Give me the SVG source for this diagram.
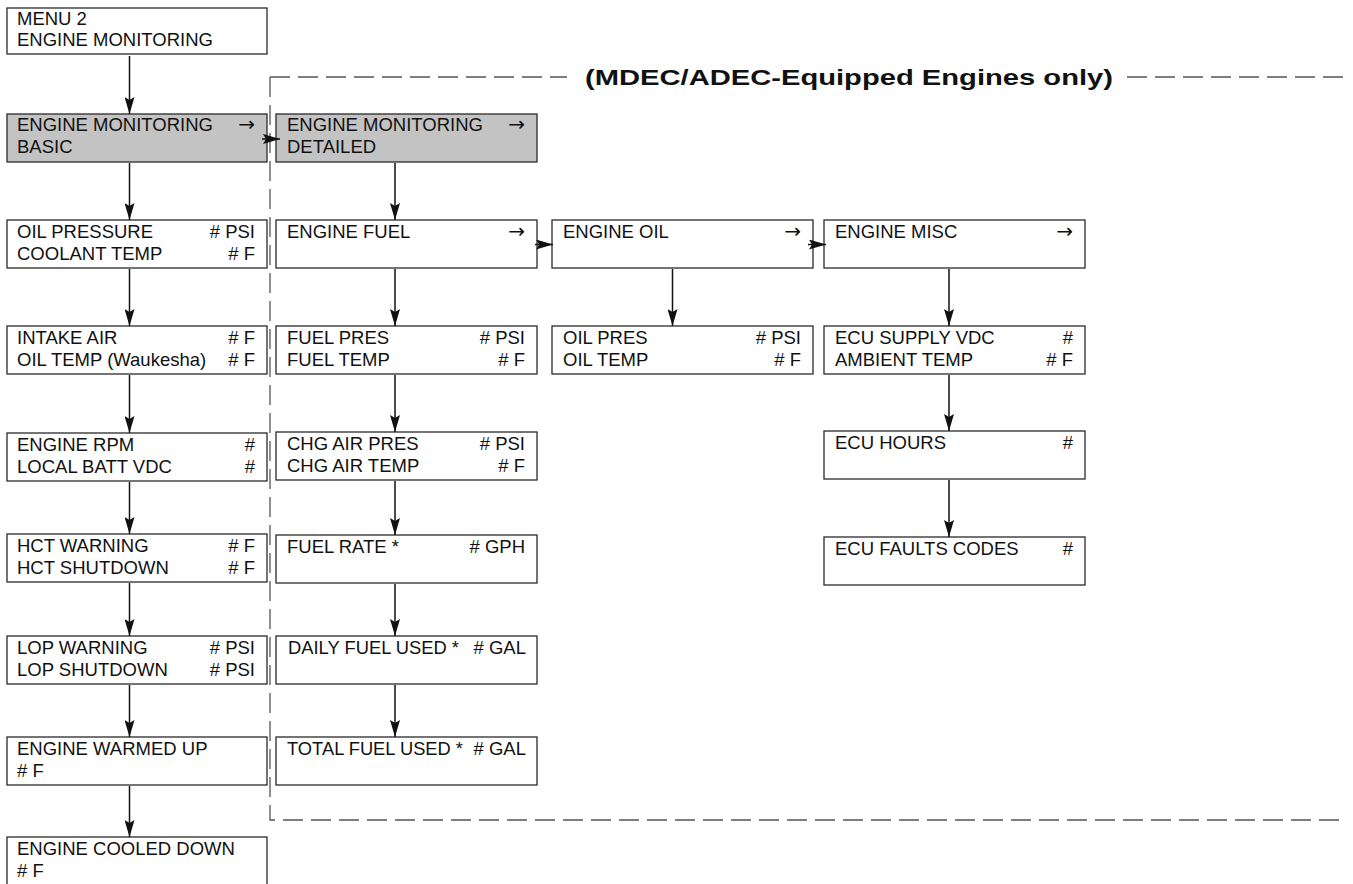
<svg xmlns="http://www.w3.org/2000/svg" width="1353" height="884" viewBox="0 0 1353 884">
<style>
.box{fill:#fff;stroke:#2a2a2a;stroke-width:1.3}
.sel{fill:#c3c3c3;stroke:#2a2a2a;stroke-width:1.3}
text{font-family:"Liberation Sans",Arial,sans-serif;font-size:18.5px;fill:#111}
.r{text-anchor:end}
.ar{font-family:"DejaVu Sans","Liberation Sans",sans-serif;font-size:20px;text-anchor:end}
.hdr{font-weight:bold;font-size:22px}
.dash{fill:none;stroke:#555;stroke-width:1.3;stroke-dasharray:20 8}
.con{fill:none;stroke:#111;stroke-width:1.5;marker-end:url(#ah)}
</style>
<defs>
<marker id="ah" viewBox="0 0 17 10" markerWidth="17" markerHeight="10" refX="17" refY="5" orient="auto" markerUnits="userSpaceOnUse">
<path d="M0,0 L17,5 L0,10 L3,5 Z" fill="#111"/>
</marker>
</defs>

<g id="region">
<path class="dash" d="M270,77 H567"/>
<path class="dash" d="M1127,77 H1347"/>
<path class="dash" d="M270,77 V820 H1340"/>
<text class="hdr" x="585" y="85" textLength="528" lengthAdjust="spacingAndGlyphs">(MDEC/ADEC-Equipped Engines only)</text>
</g>

<g id="menu2">
<rect class="box" x="7" y="8" width="260" height="46"/>
<text x="17" y="25">MENU 2</text>
<text x="17" y="46">ENGINE MONITORING</text>
</g>
<g id="basic">
<rect class="sel" x="7" y="114" width="260" height="48"/>
<text x="17" y="131">ENGINE MONITORING</text>
<text class="ar" x="255" y="131">→</text>
<text x="17" y="153">BASIC</text>
</g>
<g id="oilpressure">
<rect class="box" x="7" y="220" width="260" height="48"/>
<text x="17" y="238">OIL PRESSURE</text>
<text class="r" x="255" y="238"># PSI</text>
<text x="17" y="260">COOLANT TEMP</text>
<text class="r" x="255" y="260"># F</text>
</g>
<g id="intakeair">
<rect class="box" x="7" y="326" width="260" height="48"/>
<text x="17" y="344">INTAKE AIR</text>
<text class="r" x="255" y="344"># F</text>
<text x="17" y="366">OIL TEMP (Waukesha)</text>
<text class="r" x="255" y="366"># F</text>
</g>
<g id="enginerpm">
<rect class="box" x="7" y="433" width="260" height="48"/>
<text x="17" y="451">ENGINE RPM</text>
<text class="r" x="255" y="451">#</text>
<text x="17" y="473">LOCAL BATT VDC</text>
<text class="r" x="255" y="473">#</text>
</g>
<g id="hct">
<rect class="box" x="7" y="534" width="260" height="48"/>
<text x="17" y="552">HCT WARNING</text>
<text class="r" x="255" y="552"># F</text>
<text x="17" y="574">HCT SHUTDOWN</text>
<text class="r" x="255" y="574"># F</text>
</g>
<g id="lop">
<rect class="box" x="7" y="636" width="260" height="48"/>
<text x="17" y="654">LOP WARNING</text>
<text class="r" x="255" y="654"># PSI</text>
<text x="17" y="676">LOP SHUTDOWN</text>
<text class="r" x="255" y="676"># PSI</text>
</g>
<g id="warmedup">
<rect class="box" x="7" y="737" width="260" height="48"/>
<text x="17" y="755">ENGINE WARMED UP</text>
<text x="17" y="777"># F</text>
</g>
<g id="cooleddown">
<rect class="box" x="7" y="837" width="260" height="60"/>
<text x="17" y="855">ENGINE COOLED DOWN</text>
<text x="17" y="877"># F</text>
</g>

<g id="detailed">
<rect class="sel" x="276" y="114" width="261" height="48"/>
<text x="287" y="131">ENGINE MONITORING</text>
<text class="ar" x="525" y="131">→</text>
<text x="287" y="153">DETAILED</text>
</g>
<g id="enginefuel">
<rect class="box" x="276" y="220" width="261" height="48"/>
<text x="287" y="238">ENGINE FUEL</text>
<text class="ar" x="525" y="238">→</text>
</g>
<g id="fuelpres">
<rect class="box" x="276" y="326" width="261" height="48"/>
<text x="287" y="344">FUEL PRES</text>
<text class="r" x="525" y="344"># PSI</text>
<text x="287" y="366">FUEL TEMP</text>
<text class="r" x="525" y="366"># F</text>
</g>
<g id="chgair">
<rect class="box" x="276" y="432" width="261" height="48"/>
<text x="287" y="450">CHG AIR PRES</text>
<text class="r" x="525" y="450"># PSI</text>
<text x="287" y="472">CHG AIR TEMP</text>
<text class="r" x="525" y="472"># F</text>
</g>
<g id="fuelrate">
<rect class="box" x="276" y="535" width="261" height="48"/>
<text x="287" y="553">FUEL RATE *</text>
<text class="r" x="525" y="553"># GPH</text>
</g>
<g id="dailyfuel">
<rect class="box" x="276" y="636" width="261" height="48"/>
<text x="288" y="654" textLength="171" lengthAdjust="spacingAndGlyphs">DAILY FUEL USED *</text>
<text class="r" x="526" y="654"># GAL</text>
</g>
<g id="totalfuel">
<rect class="box" x="276" y="737" width="261" height="48"/>
<text x="287" y="755" textLength="176" lengthAdjust="spacingAndGlyphs">TOTAL FUEL USED *</text>
<text class="r" x="526" y="755"># GAL</text>
</g>

<g id="engineoil">
<rect class="box" x="552" y="220" width="261" height="48"/>
<text x="563" y="238">ENGINE OIL</text>
<text class="ar" x="801" y="238">→</text>
</g>
<g id="oilpres">
<rect class="box" x="552" y="326" width="261" height="48"/>
<text x="563" y="344">OIL PRES</text>
<text class="r" x="801" y="344"># PSI</text>
<text x="563" y="366">OIL TEMP</text>
<text class="r" x="801" y="366"># F</text>
</g>

<g id="enginemisc">
<rect class="box" x="824" y="220" width="261" height="48"/>
<text x="835" y="238">ENGINE MISC</text>
<text class="ar" x="1073" y="238">→</text>
</g>
<g id="ecusupply">
<rect class="box" x="824" y="326" width="261" height="48"/>
<text x="835" y="344">ECU SUPPLY VDC</text>
<text class="r" x="1073" y="344">#</text>
<text x="835" y="366">AMBIENT TEMP</text>
<text class="r" x="1073" y="366"># F</text>
</g>
<g id="ecuhours">
<rect class="box" x="824" y="431" width="261" height="48"/>
<text x="835" y="449">ECU HOURS</text>
<text class="r" x="1073" y="449">#</text>
</g>
<g id="ecufaults">
<rect class="box" x="824" y="537" width="261" height="48"/>
<text x="835" y="555">ECU FAULTS CODES</text>
<text class="r" x="1073" y="555">#</text>
</g>

<g id="connectors">
<path class="con" d="M129.5,56 V114"/>
<path class="con" d="M129.5,163 V220"/>
<path class="con" d="M129.5,269 V326"/>
<path class="con" d="M129.5,375 V433"/>
<path class="con" d="M129.5,482 V534"/>
<path class="con" d="M129.5,583 V636"/>
<path class="con" d="M129.5,685 V737"/>
<path class="con" d="M129.5,786 V837"/>
<path class="con" d="M395,163 V220"/>
<path class="con" d="M395,269 V326"/>
<path class="con" d="M395,375 V432"/>
<path class="con" d="M395,481 V535"/>
<path class="con" d="M395,584 V636"/>
<path class="con" d="M395,685 V737"/>
<path class="con" d="M672.5,269 V326"/>
<path class="con" d="M949,269 V326"/>
<path class="con" d="M949,375 V431"/>
<path class="con" d="M949,480 V537"/>
<path class="con" d="M262,139 H280"/>
<path class="con" d="M535,244.5 H553"/>
<path class="con" d="M808,244.5 H826"/>
</g>
</svg>
